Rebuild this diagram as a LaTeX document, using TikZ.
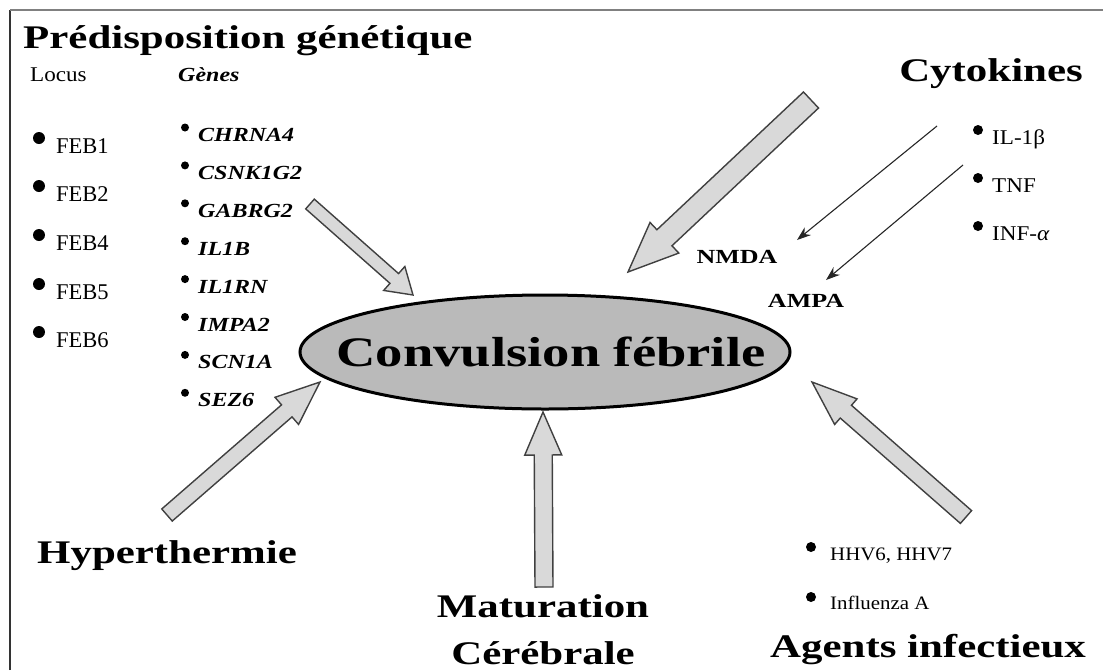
\documentclass[tikz,border=0pt]{standalone}
\usepackage{fontspec}
\setmainfont{Liberation Serif}
\newfontfamily\stA{Liberation Serif}[FakeStretch=1.3]
\newfontfamily\stB{Liberation Serif}[FakeStretch=1.2]
\newfontfamily\stC{Liberation Serif}[FakeStretch=1.1]
\usetikzlibrary{calc,arrows.meta,shapes.geometric}
\newcommand\fsz[1]{\fontsize{#1}{#1}\selectfont}
\newcommand\blockarrow[5]{%
  \coordinate (bahead) at ($(#2)!#5!(#1)$);
  \draw[blockarr] ($(#1)!#3!90:(#2)$) -- ($(bahead)!#3!-90:(#1)$) -- ($(bahead)!#4!-90:(#1)$)
     -- (#2) -- ($(bahead)!#4!90:(#1)$) -- ($(bahead)!#3!90:(#1)$) -- ($(#1)!#3!-90:(#2)$) -- cycle;}
\tikzset{
  blockarr/.style={fill=black!15, draw=black!75, line width=1.4pt, line join=miter},
  thinarr/.style={draw=black!85, line width=1.1pt, -{Stealth[length=14pt,width=10pt]}},
  bigtitle/.style={inner sep=0pt, font=\stA\fsz{33}\bfseries},
  item/.style={inner sep=0pt, anchor=base west, font=\fsz{22.5}},
  geneitem/.style={inner sep=0pt, anchor=base west, font=\stB\fsz{20}\bfseries\itshape},
  cytitem/.style={inner sep=0pt, anchor=base west, font=\stC\fsz{21}},
  smallitem/.style={inner sep=0pt, anchor=base west, font=\stC\fsz{19}},
  receptor/.style={inner sep=0pt, anchor=base, font=\stA\fsz{20}\bfseries},
  dot/.style={circle, fill=black, inner sep=0pt, minimum size=#1},
  frameline/.style={line width=2pt}
}
\begin{document}
\begin{tikzpicture}[x=1pt,y=-1pt]
\useasboundingbox (0,0) rectangle (1103,670);
% frame
\coordinate (fbl) at (10,670);
\coordinate (ftl) at (10,10);
\coordinate (ftr) at (1103,10);
\draw[frameline, black!80] (fbl) -- (ftl);
\draw[frameline, black!50] (ftl) -- (ftr);

% central ellipse
\node[draw=black, line width=3pt, fill=black!27, ellipse, minimum width=490pt, minimum height=114pt, inner sep=0pt] (cf) at (545,352) {};
\node[inner sep=0pt, font=\stA\fsz{42}\bfseries] (cftext) at (551,352) {Convulsion fébrile};

% genetic predisposition
\node[bigtitle, anchor=base west] (pg) at (23,48.5) {Prédisposition génétique};
\node[inner sep=0pt, anchor=base west, font=\stC\fsz{21}] (locus) at (30,81) {Locus};
\node[inner sep=0pt, anchor=base west, font=\stB\fsz{20}\bfseries\itshape] (genes) at (178,81) {Gènes};

\foreach \t/\yy [count=\i] in {FEB1/153,FEB2/201,FEB4/250,FEB5/299,FEB6/347}{
  \node[dot=12pt] (fbd\i) at (39,\yy-15) {};
  \node[item] (fb\i) at (56,\yy) {\t};
}
\foreach \t [count=\i from 0] in {CHRNA4,CSNK1G2,GABRG2,IL1B,IL1RN,IMPA2,SCN1A,SEZ6}{
  \node[dot=8pt] (gd\i) at (185,{127.5+37.9*\i}) {};
  \node[geneitem] (g\i) at (198,{141.5+37.9*\i}) {\t};
}

% cytokines
\node[bigtitle, anchor=base east] (cyt) at (1083,81) {Cytokines};
\foreach \t/\yy [count=\i] in {IL-1β/144,TNF/192,INF-\textit{α}/240}{
  \node[dot=10pt] (cd\i) at (978,\yy-14) {};
  \node[cytitem] (c\i) at (992,\yy) {\t};
}
\node[receptor] (nmda) at (737,263) {NMDA};
\node[receptor] (ampa) at (806,307) {AMPA};
\coordinate (t1s) at (937,126);
\coordinate (t1e) at (797,240);
\coordinate (t2s) at (963,165);
\coordinate (t2e) at (826,280);
\draw[thinarr] (t1s) -- (t1e);
\draw[thinarr] (t2s) -- (t2e);

% other factors
\node[bigtitle, anchor=base west] (hyp) at (37,563) {Hyperthermie};
\node[bigtitle, anchor=base] (mat1) at (543,617) {Maturation};
\node[bigtitle, anchor=base] (mat2) at (543,664) {Cérébrale};
\node[bigtitle, anchor=base west] (agents) at (770,657) {Agents infectieux};
\node[dot=10pt] (ad1) at (811,547) {};
\node[smallitem] (a1) at (830,560) {HHV6, HHV7};
\node[dot=10pt] (ad2) at (811,597) {};
\node[smallitem] (a2) at (830,609) {Influenza A};

% block arrows
\coordinate (gtail) at (310,204);   \coordinate (gtip) at (413,295);
\coordinate (ctail) at (811,100);   \coordinate (ctip) at (628,272);
\coordinate (htail) at (167,515);   \coordinate (htip) at (320,382);
\coordinate (mtail) at (544,587);   \coordinate (mtip) at (543,412);
\coordinate (atail) at (966,517);   \coordinate (atip) at (812,382);
\blockarrow{gtail}{gtip}{6.5pt}{16pt}{25pt}
\blockarrow{ctail}{ctip}{11pt}{21pt}{50pt}
\blockarrow{htail}{htip}{8pt}{18pt}{44pt}
\blockarrow{mtail}{mtip}{9pt}{18.5pt}{43pt}
\blockarrow{atail}{atip}{8.5pt}{17pt}{45pt}
\end{tikzpicture}
\end{document}
